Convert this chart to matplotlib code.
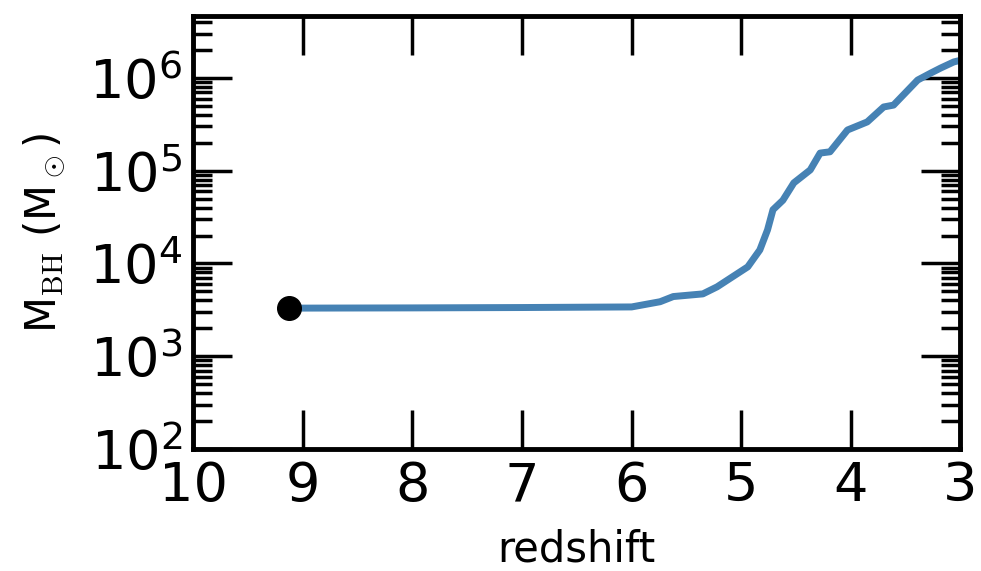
import matplotlib
matplotlib.use("Agg")
import matplotlib.pyplot as plt
import matplotlib.ticker as ticker

plt.rcParams['mathtext.fontset'] = 'cm'

# black hole mass history
redshift = [9.13, 8.0, 7.0, 6.0, 5.74, 5.62, 5.35, 5.22, 4.94, 4.83, 4.76,
            4.71, 4.62, 4.52, 4.37, 4.28, 4.19, 4.03, 3.85, 3.70, 3.61,
            3.39, 3.27, 3.18, 3.06, 3.0]
mbh = [3.3e3, 3.32e3, 3.35e3, 3.4e3, 3.87e3, 4.4e3, 4.7e3, 5.6e3, 9.2e3,
       1.4e4, 2.3e4, 3.8e4, 4.8e4, 7.4e4, 1.02e5, 1.55e5, 1.6e5, 2.75e5,
       3.36e5, 4.87e5, 5.1e5, 9.5e5, 1.13e6, 1.28e6, 1.49e6, 1.55e6]

seed_z = [9.13]
seed_m = [3.3e3]

xticks = [10, 9, 8, 7, 6, 5, 4, 3]

fig = plt.figure(figsize=(9.81, 5.71), dpi=100)
ax = fig.add_axes([0.197, 0.2137, 0.782, 0.7583])

ax.plot(redshift, mbh, color='#4682b4', lw=5)
ax.plot(seed_z, seed_m, 'o', color='k', ms=17)

ax.set_yscale('log')
ax.set_xlim(10, 3)
ax.set_ylim(1e2, 4.66e6)
ax.set_xticks(xticks)
ax.set_xticklabels([str(t) for t in xticks])
ax.yaxis.set_major_locator(ticker.LogLocator(base=10, numticks=20))
ax.yaxis.set_minor_locator(ticker.LogLocator(base=10, subs=range(2, 10),
                                             numticks=20))
ax.yaxis.set_minor_formatter(ticker.NullFormatter())
ax.xaxis.set_minor_locator(ticker.NullLocator())

for s in ax.spines.values():
    s.set_linewidth(3.5)

ax.tick_params(which='major', direction='in', length=28, width=2.5,
               labelsize=39, pad=8, top=True, right=True)
ax.tick_params(which='minor', direction='in', length=14, width=2.5,
               top=True, right=True)

ax.set_xlabel('redshift', fontsize=30, labelpad=12)
ax.set_ylabel(r'M$_{\rm BH}$ (M$_\odot$)', fontsize=30, labelpad=16)

fig.savefig('out.png', dpi=100)
